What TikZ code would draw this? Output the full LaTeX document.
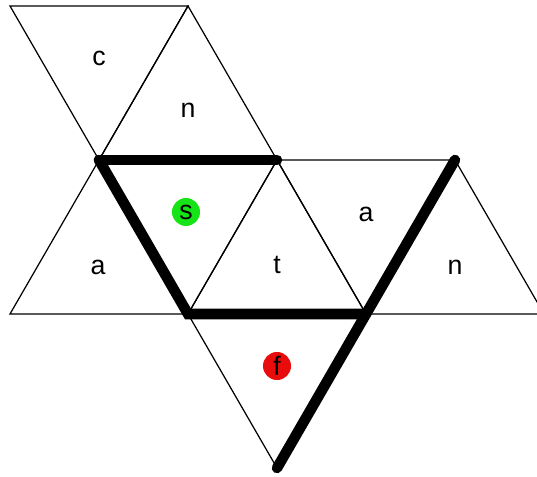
\documentclass[tikz,border=0pt]{standalone}
\usepackage{fontspec}
\setmainfont{Liberation Sans}
\definecolor{DotGreen}{RGB}{22,228,22}
\definecolor{DotRed}{RGB}{232,12,12}

\tikzset{
  face/.style={draw=black, line width=0.35pt, line join=miter},
  fold/.style={line width=3pt, line cap=round},
  lbl/.style={font=\fontsize{7.6}{9}\selectfont, inner sep=0pt},
  mark dot/.style={circle, inner sep=0pt, minimum size=0.28cm, font=\fontsize{7.6}{9}\selectfont}
}

\begin{document}
\begin{tikzpicture}[x=0.01cm, y=-0.01cm]
  \useasboundingbox (0,0) rectangle (537,477);
  \fill[white] (0,0) rectangle (537,477);
  \clip (0,0) rectangle (537,477);

  % vertices of the net, row by row
  \coordinate (a0) at (10,6);
  \coordinate (a1) at (188,6);
  \coordinate (b0) at (99,160);
  \coordinate (b1) at (277,160);
  \coordinate (b2) at (455,160);
  \coordinate (c0) at (10,314);
  \coordinate (c1) at (188,314);
  \coordinate (c2) at (366,314);
  \coordinate (c3) at (544,314);
  \coordinate (d0) at (277,468);

  % triangles
  \draw[face] (a0) -- (a1) -- (b0) -- cycle;
  \draw[face] (a1) -- (b1) -- (b0) -- cycle;
  \draw[face] (b0) -- (c1) -- (c0) -- cycle;
  \draw[face] (b0) -- (b1) -- (c1) -- cycle;
  \draw[face] (b1) -- (c2) -- (c1) -- cycle;
  \draw[face] (b1) -- (b2) -- (c2) -- cycle;
  \draw[face] (b2) -- (c3) -- (c2) -- cycle;
  \draw[face] (c1) -- (c2) -- (d0) -- cycle;

  % labels
  \node[lbl] (lc) at (99,58) {c};
  \node[lbl] (ln1) at (188,110) {n};
  \node[lbl] (la1) at (98,267) {a};
  \node[lbl] (lt) at (277,265) {t};
  \node[lbl] (la2) at (366,214) {a};
  \node[lbl] (ln2) at (455,267) {n};
  \node[mark dot, fill=DotGreen] (ls) at (186,212) {s};
  \node[mark dot, fill=DotRed] (lf) at (277,366) {f};

  % thick edges
  \draw[fold] (b0) -- (b1);
  \draw[fold] (b0) -- (c1) -- (c2);
  \draw[fold] (b2) -- (d0);
\end{tikzpicture}
\end{document}
